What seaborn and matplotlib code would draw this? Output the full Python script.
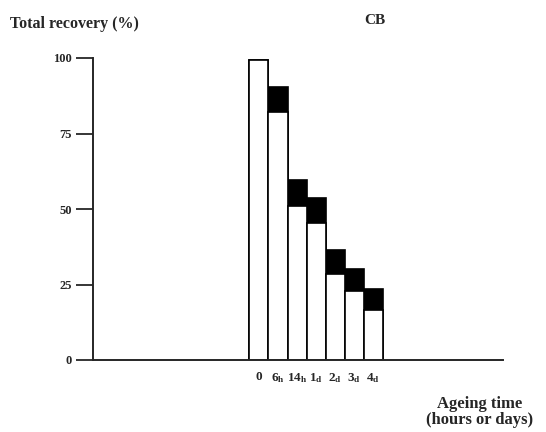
import matplotlib
matplotlib.use("Agg")
import matplotlib.pyplot as plt
import seaborn as sns
import pandas as pd

# values (percent)
times = ['0', '6h', '14h', '1d', '2d', '3d', '4d']
tick_labels = [r'$0$', r'$6_\mathrm{h}$', r'$14_\mathrm{h}$', r'$1_\mathrm{d}$',
               r'$2_\mathrm{d}$', r'$3_\mathrm{d}$', r'$4_\mathrm{d}$']
white_part = [99.5, 82.0, 51.0, 45.5, 28.5, 23.0, 16.5]
total = [99.5, 90.5, 59.5, 53.5, 36.5, 30.0, 23.5]

df = pd.DataFrame({'time': times, 'white': white_part, 'total': total})

sns.set_style('white')
plt.rcParams['font.family'] = ['Liberation Serif', 'DejaVu Serif']
plt.rcParams['font.weight'] = 'bold'
plt.rcParams['mathtext.fontset'] = 'custom'
plt.rcParams['mathtext.rm'] = 'Liberation Serif:bold'
plt.rcParams['mathtext.it'] = 'Liberation Serif:bold'

fig = plt.figure(figsize=(5.46, 4.32), dpi=100)
ax = fig.add_axes([93 / 546, 1 - 360 / 432, 410 / 546, 302 / 432])

# black = total, white part drawn on top
sns.barplot(data=df, x='time', y='total', order=times, color='black',
            edgecolor='black', linewidth=1.2, width=1.0, ax=ax)
sns.barplot(data=df, x='time', y='white', order=times, color='white',
            edgecolor='black', linewidth=1.2, width=1.0, ax=ax)
for p in ax.patches:
    p.set_facecolor(p.get_facecolor()[:3] + (1,))

ax.set_xlim(-8.7, 12.8)
ax.set_ylim(0, 100)
ax.set_yticks([0, 25, 50, 75, 100])
ax.set_yticklabels(['0', '25', '50', '75', '100'], fontsize=9, fontweight='bold')
ax.set_xticks(range(len(times)))
ax.set_xticklabels(tick_labels, fontsize=9.5)
ax.tick_params(axis='y', direction='out', length=12, width=1.3, left=True, pad=3)
ax.tick_params(axis='x', length=0, pad=8)
ax.set_xlabel('')
ax.set_ylabel('')
for s in ['top', 'right']:
    ax.spines[s].set_visible(False)
ax.spines['left'].set_linewidth(1.4)
ax.spines['bottom'].set_linewidth(1.4)

fig.text(10 / 546, 1 - 24 / 432, 'Total recovery (%)', fontsize=11.5,
         fontweight='bold', va='center', ha='left')
fig.text(375 / 546, 1 - 20 / 432, 'CB', fontsize=11, fontweight='bold',
         va='center', ha='center')
fig.text(480 / 546, 1 - 412 / 432, 'Ageing time\n(hours or days)', fontsize=12,
         fontweight='bold', va='center', ha='center', linespacing=1.0)

fig.savefig('out.png', dpi=100)
